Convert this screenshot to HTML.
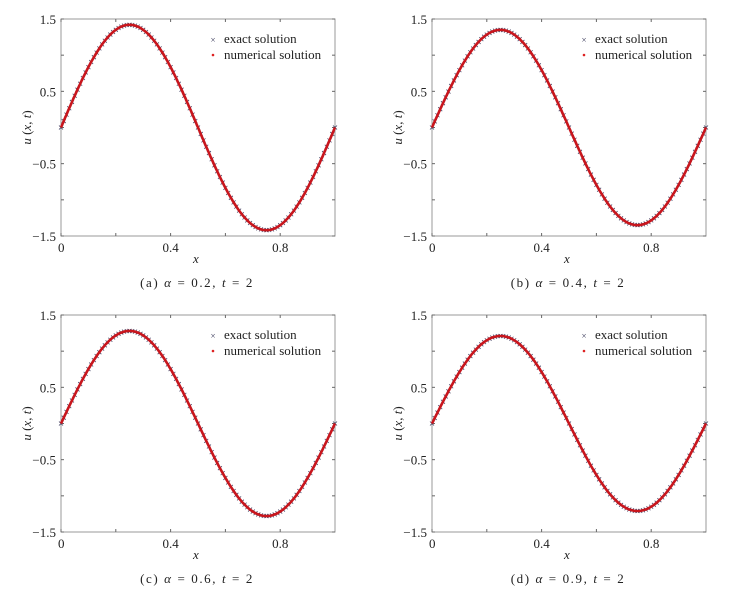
<!DOCTYPE html>
<html><head><meta charset="utf-8"><style>
html,body{margin:0;padding:0;background:#fff;}
svg{display:block;font-family:"Liberation Serif",serif;}
</style></head><body>
<svg id="s" width="735" height="604" viewBox="0 0 735 604"></svg>
<script>
var s=document.getElementById('s');var h='';
var panels=[
 {x:61,y:19,A:1.42,cap:'(a)',al:'0.2'},
 {x:432,y:19,A:1.35,cap:'(b)',al:'0.4'},
 {x:61,y:315,A:1.28,cap:'(c)',al:'0.6'},
 {x:432,y:315,A:1.21,cap:'(d)',al:'0.9'}];
var W=274,H=217;
panels.forEach(function(p){
 var X=function(v){return p.x+v*W;},Y=function(v){return p.y+(1.5-v)/3*H;};
 h+='<rect x="'+p.x+'" y="'+p.y+'" width="'+W+'" height="'+H+'" fill="none" stroke="#999" stroke-width="1"/>';
 [0,0.2,0.4,0.6,0.8].forEach(function(t){h+='<line x1="'+X(t)+'" x2="'+X(t)+'" y1="'+(p.y+H)+'" y2="'+(p.y+H-3)+'" stroke="#666"/><line x1="'+X(t)+'" x2="'+X(t)+'" y1="'+p.y+'" y2="'+(p.y+3)+'" stroke="#666"/>';});
 [1.5,1,0.5,0,-0.5,-1,-1.5].forEach(function(t){h+='<line x1="'+p.x+'" x2="'+(p.x+3)+'" y1="'+Y(t)+'" y2="'+Y(t)+'" stroke="#666"/><line x1="'+(p.x+W)+'" x2="'+(p.x+W-3)+'" y1="'+Y(t)+'" y2="'+Y(t)+'" stroke="#666"/>';});
 [['1.5',1.5],['0.5',0.5],['\u22120.5',-0.5],['\u22121.5',-1.5]].forEach(function(l){h+='<text x="'+(p.x-5)+'" y="'+(Y(l[1])+5)+'" font-size="13" text-anchor="end" fill="#222">'+l[0]+'</text>';});
 [['0',0],['0.4',0.4],['0.8',0.8]].forEach(function(l){h+='<text x="'+X(l[1])+'" y="'+(p.y+H+16)+'" font-size="13" text-anchor="'+(l[1]==0?'start':'middle')+'" fill="#222" dx="'+(l[1]==0?-3:0)+'">'+l[0]+'</text>';});
 h+='<text x="'+(p.x+W/2-5)+'" y="'+(p.y+H+27)+'" font-size="13" font-style="italic" fill="#222">x</text>';
 h+='<text transform="translate('+(p.x-30)+','+(Y(0))+') rotate(-90)" font-size="13" text-anchor="middle" fill="#222"><tspan font-style="italic">u</tspan> (<tspan font-style="italic">x</tspan>, <tspan font-style="italic">t</tspan>)</text>';
 h+='<text x="'+(p.x+W/2-1)+'" y="'+(p.y+H+51)+'" font-size="13" text-anchor="middle" fill="#222" letter-spacing="1.6">'+p.cap+' <tspan font-style="italic">α</tspan> = '+p.al+', <tspan font-style="italic">t</tspan> = 2</text>';
 h+='<text x="'+(p.x+152)+'" y="'+(p.y+24)+'" font-size="9" fill="#335" text-anchor="middle">×</text><text x="'+(p.x+163)+'" y="'+(p.y+24)+'" font-size="13" fill="#222">exact solution</text>';
 h+='<circle cx="'+(p.x+152)+'" cy="'+(p.y+36)+'" r="1.3" fill="#d22"/><text x="'+(p.x+163)+'" y="'+(p.y+40)+'" font-size="13" fill="#222">numerical solution</text>';
 var d='';for(var i=0;i<=200;i++){var v=i/200;d+=(i?'L':'M')+X(v).toFixed(1)+','+Y(p.A*Math.sin(2*Math.PI*v)).toFixed(1);}
 for(var i=0;i<=100;i++){var v=i/100,cx=X(v),cy=Y(p.A*Math.sin(2*Math.PI*v));h+='<path d="M'+(cx-2)+','+(cy-2)+'l4,4M'+(cx-2)+','+(cy+2)+'l4,-4" stroke="#446" stroke-width="0.8"/>';}
 h+='<path d="'+d+'" fill="none" stroke="#c8161d" stroke-width="2.6"/>';
});
s.innerHTML=h;
</script>
</body></html>
